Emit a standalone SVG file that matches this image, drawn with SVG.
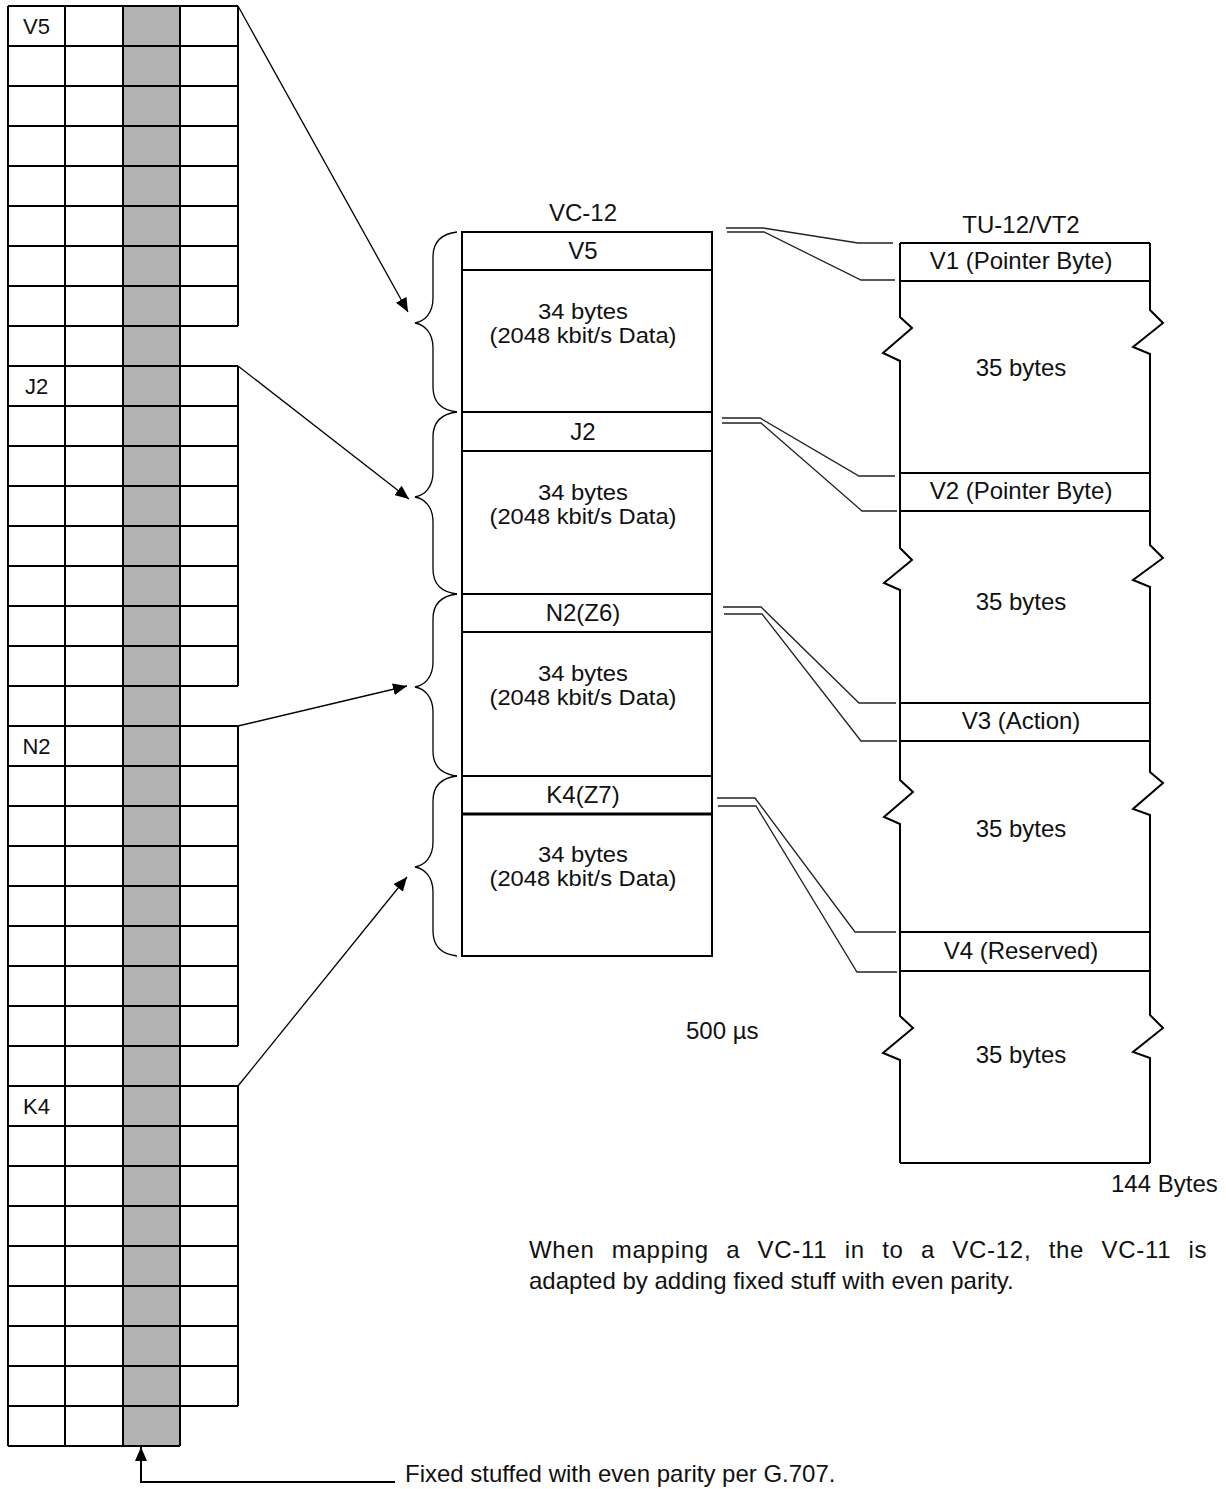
<svg xmlns="http://www.w3.org/2000/svg" width="1226" height="1489" viewBox="0 0 1226 1489">
<defs>
<marker id="ah" markerUnits="userSpaceOnUse" markerWidth="16" markerHeight="12" refX="14" refY="6" orient="auto">
<path d="M0,0 L14,6 L0,12 z" fill="#000"/>
</marker>
<style>
text{font-family:"Liberation Sans",Arial,sans-serif;fill:#111;font-size:24px}
.lbl{font-size:22px;text-anchor:middle}
.c{text-anchor:middle}
.d{text-anchor:middle;font-size:22px}
.ln{fill:none;stroke:#000;stroke-width:2}
.thin{fill:none;stroke:#000;stroke-width:1.3}
.dbl{fill:none;stroke:#222;stroke-width:1.3}
.brace{fill:none;stroke:#000;stroke-width:1.3}
</style>
</defs>
<rect width="1226" height="1489" fill="#fff"/>

<g id="grid">
<rect x="123" y="6" width="57" height="1440" fill="#b3b3b3"/>
<path class="ln" d="M8,6V1446M65,6V1446M123,6V1446M180,6V1446M238,6V326M238,366V686M238,726V1046M238,1086V1406"/>
<path class="ln" d="M8,6H238M8,46H238M8,86H238M8,126H238M8,166H238M8,206H238M8,246H238M8,286H238M8,326H238M8,366H238M8,406H238M8,446H238M8,486H238M8,526H238M8,566H238M8,606H238M8,646H238M8,686H238M8,726H238M8,766H238M8,806H238M8,846H238M8,886H238M8,926H238M8,966H238M8,1006H238M8,1046H238M8,1086H238M8,1126H238M8,1166H238M8,1206H238M8,1246H238M8,1286H238M8,1326H238M8,1366H238M8,1406H238M8,1446H180"/>
<text class="lbl" x="36.5" y="34">V5</text>
<text class="lbl" x="36.5" y="394">J2</text>
<text class="lbl" x="36.5" y="754">N2</text>
<text class="lbl" x="36.5" y="1114">K4</text>
</g>

<g id="vc12">
<text class="c" x="583" y="221">VC-12</text>
<path class="ln" d="M462,232H712V956H462Z"/>
<path class="ln" d="M462,270H712M462,412H712M462,451H712M462,594H712M462,632H712M462,776H712"/>
<path d="M462,814H712" fill="none" stroke="#000" stroke-width="3"/>
<text class="c" x="583" y="259">V5</text>
<text class="d" x="583" y="319" textLength="90" lengthAdjust="spacingAndGlyphs">34 bytes</text>
<text class="d" x="583" y="343" textLength="187" lengthAdjust="spacingAndGlyphs">(2048 kbit/s Data)</text>
<text class="c" x="583" y="440">J2</text>
<text class="d" x="583" y="500" textLength="90" lengthAdjust="spacingAndGlyphs">34 bytes</text>
<text class="d" x="583" y="524" textLength="187" lengthAdjust="spacingAndGlyphs">(2048 kbit/s Data)</text>
<text class="c" x="583" y="621">N2(Z6)</text>
<text class="d" x="583" y="681" textLength="90" lengthAdjust="spacingAndGlyphs">34 bytes</text>
<text class="d" x="583" y="705" textLength="187" lengthAdjust="spacingAndGlyphs">(2048 kbit/s Data)</text>
<text class="c" x="583" y="803">K4(Z7)</text>
<text class="d" x="583" y="862" textLength="90" lengthAdjust="spacingAndGlyphs">34 bytes</text>
<text class="d" x="583" y="886" textLength="187" lengthAdjust="spacingAndGlyphs">(2048 kbit/s Data)</text>
</g>

<g id="braces">
<path class="brace" d="M457,232 C440,234 433,244 433,257 L433,298 C433,313 425,321 415,323 C425,325 433,333 433,348 L433,387 C433,400 440,410 457,412"/>
<path class="brace" d="M457,412 C440,414 433,424 433,437 L433,472 C433,487 425,495 415,497 C425,499 433,507 433,522 L433,569 C433,582 440,592 457,594"/>
<path class="brace" d="M457,594 C440,596 433,606 433,619 L433,662 C433,677 425,685 415,687 C425,689 433,697 433,712 L433,751 C433,764 440,774 457,776"/>
<path class="brace" d="M457,776 C440,778 433,788 433,801 L433,842 C433,857 425,865 415,867 C425,869 433,877 433,892 L433,931 C433,944 440,954 457,956"/>
</g>

<g id="tu12">
<text class="c" x="1021" y="233">TU-12/VT2</text>
<path class="ln" d="M900,243H1150M900,281H1150M900,473H1150M900,511H1150M900,703H1150M900,741H1150M900,932H1150M900,971H1150M900,1163H1150"/>
<path class="ln" d="M900,243 V317 L912,328 L883,353 L900,361 V548 L912,560 L884,583 L900,590 V780 L913,792 L884,817 L900,824 V1016 L913,1028 L883,1053 L900,1060 V1163"/>
<path class="ln" d="M1150,243 V310 L1163,323 L1133,347 L1150,354 V545 L1163,558 L1133,580 L1150,587 V772 L1163,783 L1133,809 L1150,815 V1015 L1163,1028 L1133,1052 L1150,1058 V1163"/>
<text class="c" x="1021" y="269">V1 (Pointer Byte)</text>
<text class="c" x="1021" y="376">35 bytes</text>
<text class="c" x="1021" y="499">V2 (Pointer Byte)</text>
<text class="c" x="1021" y="610">35 bytes</text>
<text class="c" x="1021" y="729">V3 (Action)</text>
<text class="c" x="1021" y="837">35 bytes</text>
<text class="c" x="1021" y="959">V4 (Reserved)</text>
<text class="c" x="1021" y="1063">35 bytes</text>
</g>

<g id="connectors">
<path class="thin" marker-end="url(#ah)" d="M238,6 L408,312"/>
<path class="thin" marker-end="url(#ah)" d="M238,366 L409,499"/>
<path class="thin" marker-end="url(#ah)" d="M238,726 L407,686"/>
<path class="thin" marker-end="url(#ah)" d="M238,1086 L407,877"/>
<path class="ln" marker-end="url(#ah)" d="M395,1482 H141 V1447"/>
<path class="dbl" d="M726,228 H763 L858,243 H893"/>
<path class="dbl" d="M727,232 H764 L861,280 H895"/>
<path class="dbl" d="M722,418 H760 L859,476 H895"/>
<path class="dbl" d="M722,423 H761 L862,511 H897"/>
<path class="dbl" d="M723,607 H761 L859,703 H896"/>
<path class="dbl" d="M724,614 H762 L861,741 H897"/>
<path class="dbl" d="M717,798 H755 L855,932 H896"/>
<path class="dbl" d="M718,806 H756 L857,972 H897"/>
</g>

<g id="notes">
<text x="686" y="1039">500 µs</text>
<text x="1111" y="1192">144 Bytes</text>
<text x="529" y="1258" word-spacing="10" letter-spacing="0.7">When mapping a VC-11 in to a VC-12, the VC-11 is</text>
<text x="529" y="1289">adapted by adding fixed stuff with even parity.</text>
<text x="405" y="1482">Fixed stuffed with even parity per G.707.</text>
</g>
</svg>
